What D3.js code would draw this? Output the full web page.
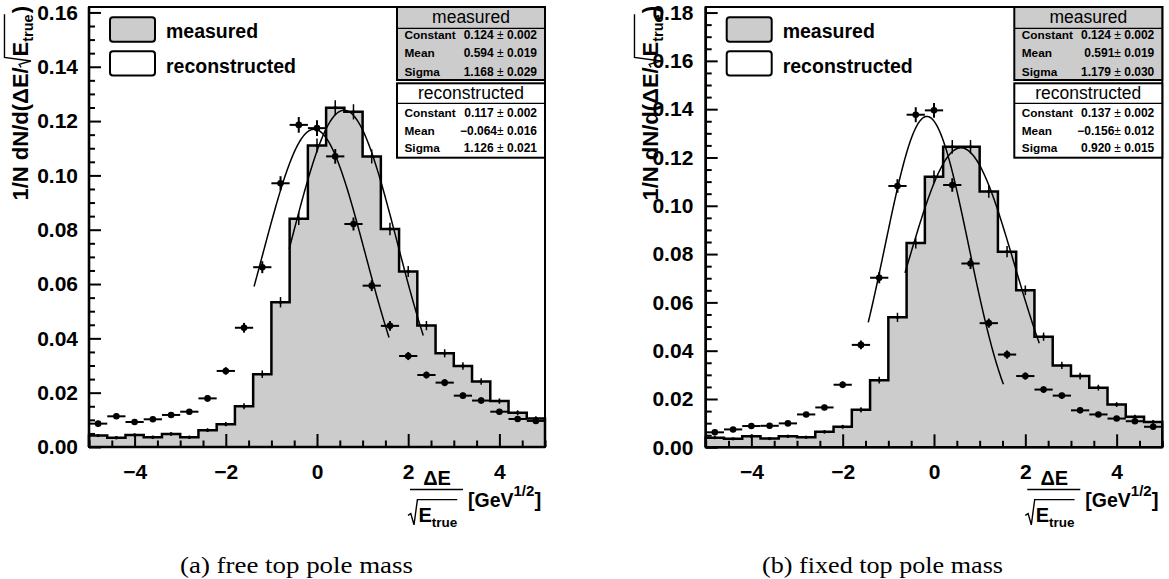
<!DOCTYPE html>
<html><head><meta charset="utf-8">
<script src="https://cdn.jsdelivr.net/npm/d3@7/dist/d3.min.js"></script>
<style>
html,body{margin:0;padding:0;background:#fff;}
svg{display:block;}
</style></head><body>
<svg id="chart" width="1169" height="579"></svg>
<script>
// ---------------- data ----------------
const binEdges = [-5.0,-4.6,-4.2,-3.8,-3.4,-3.0,-2.6,-2.2,-1.8,-1.4,-1.0,-0.6,-0.2,0.2,0.6,1.0,1.4,1.8,2.2,2.6,3.0,3.4,3.8,4.2,4.6,5.0];
const binCenters = [-4.8,-4.4,-4.0,-3.6,-3.2,-2.8,-2.4,-2.0,-1.6,-1.2,-0.8,-0.4,0.0,0.4,0.8,1.2,1.6,2.0,2.4,2.8,3.2,3.6,4.0,4.4,4.8];

// panel (a): free top pole mass
const measuredA = [0.0042,0.0034,0.0044,0.0036,0.0048,0.0036,0.0062,0.0084,0.0150,0.0268,0.0533,0.0840,0.1110,0.1249,0.1234,0.1070,0.0803,0.0646,0.0447,0.0345,0.0298,0.0241,0.0169,0.0126,0.0105];
const measuredErrA = [0.0005,0.0005,0.0005,0.0005,0.0006,0.0005,0.0007,0.0008,0.0011,0.0014,0.0019,0.0023,0.0026,0.0028,0.0028,0.0026,0.0023,0.0020,0.0017,0.0015,0.0014,0.0012,0.0010,0.0009,0.0008];
const reconstructedA = [0.0086,0.0113,0.0092,0.0102,0.0118,0.0130,0.0179,0.0280,0.0439,0.0662,0.0971,0.1186,0.1174,0.1070,0.0821,0.0594,0.0446,0.0335,0.0265,0.0237,0.0189,0.0171,0.0130,0.0103,0.0096];
const reconstructedErrA = [0.0008,0.0009,0.0008,0.0009,0.0009,0.0010,0.0012,0.0014,0.0018,0.0022,0.0026,0.0029,0.0029,0.0027,0.0024,0.0020,0.0018,0.0015,0.0013,0.0013,0.0011,0.0011,0.0010,0.0009,0.0008];

// panel (b): fixed top pole mass
const measuredB = [0.0040,0.0035,0.0046,0.0036,0.0046,0.0042,0.0064,0.0085,0.0155,0.0278,0.0538,0.0846,0.1120,0.1244,0.1244,0.1059,0.0810,0.0650,0.0458,0.0339,0.0295,0.0247,0.0177,0.0126,0.0105];
const measuredErrB = [0.0005,0.0005,0.0005,0.0005,0.0005,0.0005,0.0007,0.0008,0.0011,0.0014,0.0019,0.0023,0.0026,0.0028,0.0028,0.0026,0.0023,0.0020,0.0017,0.0015,0.0014,0.0012,0.0010,0.0009,0.0008];
const reconstructedB = [0.0062,0.0074,0.0088,0.0089,0.0099,0.0136,0.0165,0.0259,0.0424,0.0702,0.1082,0.1377,0.1395,0.1086,0.0761,0.0514,0.0384,0.0295,0.0239,0.0214,0.0153,0.0136,0.0119,0.0108,0.0085];
const reconstructedErrB = [0.0007,0.0008,0.0008,0.0008,0.0009,0.0010,0.0011,0.0014,0.0018,0.0023,0.0028,0.0031,0.0031,0.0028,0.0023,0.0019,0.0017,0.0015,0.0013,0.0012,0.0011,0.0010,0.0009,0.0009,0.0008];

// Gaussian fit results [Constant, Mean, Sigma] and fit ranges
const fitMeasuredA = [0.124, 0.594, 1.168];
const fitReconstructedA = [0.117, -0.064, 1.126];
const fitMeasuredB = [0.124, 0.591, 1.179];
const fitReconstructedB = [0.137, -0.156, 0.920];
const fitRangeMeasuredA = [-0.61, 2.33];
const fitRangeReconstructedA = [-1.38, 1.58];
const fitRangeMeasuredB = [-0.635, 2.32];
const fitRangeReconstructedB = [-1.44, 1.53];

// statistics box texts
const statNames = ["Constant", "Mean", "Sigma"];
const statTextMeasuredA = ["0.124 ± 0.002", "0.594 ± 0.019", "1.168 ± 0.029"];
const statTextReconstructedA = ["0.117 ± 0.002", "\u22120.064± 0.016", "1.126 ± 0.021"];
const statTextMeasuredB = ["0.124 ± 0.002", "0.591± 0.019", "1.179 ± 0.030"];
const statTextReconstructedB = ["0.137 ± 0.002", "\u22120.156± 0.012", "0.920 ± 0.015"];
const seriesNames = ["measured", "reconstructed"];

// axes
const xMajorTicks = [-4, -2, 0, 2, 4];
const xMajorLabels = ["\u22124", "\u22122", "0", "2", "4"];
const xMinorTicks = [-5, -4.5, -3.5, -3, -2.5, -1.5, -1, -0.5, 0.5, 1, 1.5, 2.5, 3, 3.5, 4.5, 5];
const yMajorTicksA = [0, 0.02, 0.04, 0.06, 0.08, 0.10, 0.12, 0.14, 0.16];
const yMajorLabelsA = ["0.00","0.02","0.04","0.06","0.08","0.10","0.12","0.14","0.16"];
const yMinorTicksA = [0.005,0.01,0.015,0.025,0.03,0.035,0.045,0.05,0.055,0.065,0.07,0.075,0.085,0.09,0.095,0.105,0.11,0.115,0.125,0.13,0.135,0.145,0.15,0.155];
const yMajorTicksB = [0, 0.02, 0.04, 0.06, 0.08, 0.10, 0.12, 0.14, 0.16, 0.18];
const yMajorLabelsB = ["0.00","0.02","0.04","0.06","0.08","0.10","0.12","0.14","0.16","0.18"];
const yMinorTicksB = [0.005,0.01,0.015,0.025,0.03,0.035,0.045,0.05,0.055,0.065,0.07,0.075,0.085,0.09,0.095,0.105,0.11,0.115,0.125,0.13,0.135,0.145,0.15,0.155,0.165,0.17,0.175];
const xDomain = [-5, 5];
const captionA = "(a) free top pole mass";
const captionB = "(b) fixed top pole mass";

// ---------------- drawing ----------------
const FONT = '"Liberation Sans", Arial, Helvetica, sans-serif';
const GRAY = '#cccccc';
const svg = d3.select('#chart').attr('font-family', FONT);

function measure(str, fs, fw) {
  const t = svg.append('text').attr('font-size', fs).attr('font-weight', fw || 'bold').text(str);
  const w = t.node().getComputedTextLength();
  t.remove();
  return w;
}

// rich text with an optional radical sign
function drawRich(g, items, anchor) {
  let x = 0; const placed = [];
  items.forEach(it => {
    if (it.rad) { placed.push({rad: true, x, fs: it.fs}); x += it.fs * 0.52; }
    else if (it.radEnd) { placed.push({radEnd: true, x}); x += 1; }
    else { const w = measure(it.t, it.fs, it.fw); placed.push(Object.assign({}, it, {x, w})); x += w; }
  });
  const off = anchor === 'end' ? -x : anchor === 'middle' ? -x / 2 : 0;
  let rs = null;
  placed.forEach(p => {
    if (p.rad) rs = p;
    else if (p.radEnd) {
      const fs = rs.fs, x0 = rs.x + off, x1 = p.x + off, top = -fs * 1.12;
      g.append('path')
        .attr('d', `M${x0},${-fs*0.33} L${x0+fs*0.14},${-fs*0.42} L${x0+fs*0.3},${fs*0.14} L${x0+fs*0.47},${top} L${x1},${top}`)
        .attr('fill', 'none').attr('stroke', '#000').attr('stroke-width', 1.4);
    } else {
      g.append('text').attr('x', p.x + off).attr('y', p.dy || 0)
        .attr('font-size', p.fs).attr('font-weight', p.fw || 'bold').text(p.t);
    }
  });
  return x;
}

const panels = [
  {L: 89, R: 545, T: 7, B: 447, ymax: 0.162,
   meas: measuredA, measErr: measuredErrA, rec: reconstructedA, recErr: reconstructedErrA,
   fitM: fitMeasuredA, fitR: fitReconstructedA, rangeM: fitRangeMeasuredA, rangeR: fitRangeReconstructedA,
   yMajor: yMajorTicksA, yLabels: yMajorLabelsA, yMinor: yMinorTicksA,
   statsM: statTextMeasuredA, statsR: statTextReconstructedA,
   caption: captionA, capX: 296.5, capLen: 233, yTitleX: 28, yLabelPad: 11},
  {L: 705.7, R: 1162.3, T: 7, B: 447.3, ymax: 0.1823,
   meas: measuredB, measErr: measuredErrB, rec: reconstructedB, recErr: reconstructedErrB,
   fitM: fitMeasuredB, fitR: fitReconstructedB, rangeM: fitRangeMeasuredB, rangeR: fitRangeReconstructedB,
   yMajor: yMajorTicksB, yLabels: yMajorLabelsB, yMinor: yMinorTicksB,
   statsM: statTextMeasuredB, statsR: statTextReconstructedB,
   caption: captionB, capX: 882.5, capLen: 241, yTitleX: 658, yLabelPad: 12.4}
];

panels.forEach(p => {
  const x = d3.scaleLinear().domain(xDomain).range([p.L, p.R]);
  const y = d3.scaleLinear().domain([0, p.ymax]).range([p.B, p.T]);
  const g = svg.append('g');

  // measured histogram (filled)
  const pts = [];
  p.meas.forEach((v, i) => { pts.push([binEdges[i], v]); pts.push([binEdges[i + 1], v]); });
  g.append('path')
    .attr('d', d3.area().x(d => x(d[0])).y0(y(0)).y1(d => y(d[1]))(pts))
    .attr('fill', GRAY);
  const outline = [[binEdges[0], 0]].concat(pts, [[binEdges[binEdges.length - 1], 0]]);
  g.append('path')
    .attr('d', d3.line().x(d => x(d[0])).y(d => y(d[1]))(outline))
    .attr('fill', 'none').attr('stroke', '#000').attr('stroke-width', 2.5).attr('stroke-linejoin', 'miter');
  // measured markers + error bars
  const mg = g.append('g');
  mg.selectAll('line').data(p.meas).enter().append('line')
    .attr('x1', (d, i) => x(binCenters[i])).attr('x2', (d, i) => x(binCenters[i]))
    .attr('y1', (d, i) => y(d - p.measErr[i])).attr('y2', (d, i) => y(d + p.measErr[i]))
    .attr('stroke', '#000').attr('stroke-width', 1.5);
  mg.selectAll('circle').data(p.meas).enter().append('circle')
    .attr('cx', (d, i) => x(binCenters[i])).attr('cy', d => y(d)).attr('r', 1.7).attr('fill', '#000');

  // reconstructed points
  const rg = g.append('g');
  rg.selectAll('line.h').data(p.rec).enter().append('line').attr('class', 'h')
    .attr('x1', (d, i) => x(binEdges[i])).attr('x2', (d, i) => x(binEdges[i + 1]))
    .attr('y1', d => y(d)).attr('y2', d => y(d))
    .attr('stroke', '#000').attr('stroke-width', 2);
  rg.selectAll('line.v').data(p.rec).enter().append('line').attr('class', 'v')
    .attr('x1', (d, i) => x(binCenters[i])).attr('x2', (d, i) => x(binCenters[i]))
    .attr('y1', (d, i) => y(d - p.recErr[i])).attr('y2', (d, i) => y(d + p.recErr[i]))
    .attr('stroke', '#000').attr('stroke-width', 2);
  rg.selectAll('circle').data(p.rec).enter().append('circle')
    .attr('cx', (d, i) => x(binCenters[i])).attr('cy', d => y(d)).attr('r', 3.3).attr('fill', '#000');

  // gaussian fits
  const gauss = (f, v) => f[0] * Math.exp(-0.5 * Math.pow((v - f[1]) / f[2], 2));
  [[p.fitM, p.rangeM], [p.fitR, p.rangeR]].forEach(([f, r]) => {
    const xs = d3.range(r[0], r[1] + 1e-9, 0.02);
    g.append('path')
      .attr('d', d3.line().x(v => x(v)).y(v => y(gauss(f, v)))(xs))
      .attr('fill', 'none').attr('stroke', '#000').attr('stroke-width', 1.5);
  });

  // frame
  g.append('rect').attr('x', p.L).attr('y', p.T).attr('width', p.R - p.L).attr('height', p.B - p.T)
    .attr('fill', 'none').attr('stroke', '#000').attr('stroke-width', 2);
  g.append('line').attr('x1', p.L).attr('x2', p.L).attr('y1', p.T).attr('y2', p.B).attr('stroke', '#000').attr('stroke-width', 2.6);
  g.append('line').attr('x1', p.L).attr('x2', p.R).attr('y1', p.B).attr('y2', p.B).attr('stroke', '#000').attr('stroke-width', 2.6);

  // axes
  const styleAxis = (a, fs) => {
    a.select('.domain').remove();
    a.selectAll('line').attr('stroke-width', 2);
    a.selectAll('text').attr('font-family', FONT).attr('font-size', fs).attr('font-weight', 'bold').attr('fill', '#000');
  };
  const yAx = g.append('g').attr('transform', `translate(${p.L},0)`)
    .call(d3.axisLeft(y).tickValues(p.yMajor).tickFormat(d => p.yLabels[p.yMajor.indexOf(d)])
      .tickSizeInner(-12).tickSizeOuter(0).tickPadding(p.yLabelPad));
  styleAxis(yAx, 21);
  const yMin = g.append('g').attr('transform', `translate(${p.L},0)`)
    .call(d3.axisLeft(y).tickValues(p.yMinor).tickFormat('').tickSizeInner(-6).tickSizeOuter(0));
  styleAxis(yMin, 10);
  const xAx = g.append('g').attr('transform', `translate(0,${p.B})`)
    .call(d3.axisBottom(x).tickValues(xMajorTicks).tickFormat(d => xMajorLabels[xMajorTicks.indexOf(d)])
      .tickSizeInner(-13).tickSizeOuter(0).tickPadding(17));
  styleAxis(xAx, 21);
  const xMin = g.append('g').attr('transform', `translate(0,${p.B})`)
    .call(d3.axisBottom(x).tickValues(xMinorTicks).tickFormat('').tickSizeInner(-6.5).tickSizeOuter(0));
  styleAxis(xMin, 10);

  // legend
  const lg = g.append('g');
  [[GRAY, 10.3, 31.3], ['#fff', 44.2, 66.3]].forEach(([fill, ry, ty], k) => {
    lg.append('rect').attr('x', p.L + 21).attr('y', p.T + ry).attr('width', 45).attr('height', 24.4)
      .attr('rx', 3).attr('fill', fill).attr('stroke', '#000').attr('stroke-width', 2);
    lg.append('text').attr('x', p.L + 77).attr('y', p.T + ty).attr('font-size', 19.5)
      .attr('font-weight', 'bold').text(seriesNames[k]);
  });

  // statistics boxes
  const x0 = p.R - 148;
  const boxes = [
    {fill: GRAY, top: p.T, bot: 80, title: seriesNames[0], tb: 22.5, sep: 28.3, rows: [38.5, 57.2, 75.5], txt: p.statsM},
    {fill: '#fff', top: 83.3, bot: 157.7, title: seriesNames[1], tb: 99.3, sep: 103.3, rows: [117, 134.8, 152.2], txt: p.statsR}
  ];
  boxes.forEach(b => {
    const sg = g.append('g');
    sg.append('rect').attr('x', x0).attr('y', b.top).attr('width', p.R - x0).attr('height', b.bot - b.top)
      .attr('fill', b.fill).attr('stroke', '#000').attr('stroke-width', 2);
    sg.append('line').attr('x1', x0).attr('x2', p.R).attr('y1', b.sep).attr('y2', b.sep)
      .attr('stroke', '#000').attr('stroke-width', 1.2);
    sg.append('text').attr('x', x0 + 74).attr('y', b.tb).attr('text-anchor', 'middle')
      .attr('font-size', 17.5).text(b.title);
    statNames.forEach((n, i) => {
      sg.append('text').attr('x', x0 + 7.5).attr('y', b.rows[i]).attr('font-size', 11.8)
        .attr('font-weight', 'bold').text(n);
      const parts = b.txt[i].split('±');
      const t = sg.append('text').attr('x', p.R - 8).attr('y', b.rows[i]).attr('text-anchor', 'end')
        .attr('font-size', 12).attr('font-weight', 'bold');
      t.append('tspan').text(parts[0]);
      t.append('tspan').attr('font-weight', 'normal').text('±');
      t.append('tspan').text(parts[1]);
    });
  });

  // y axis title
  const yt = g.append('g').attr('transform', `translate(${p.yTitleX},6) rotate(-90)`);
  drawRich(yt, [
    {t: '1/N dN/d(\u0394E/', fs: 22}, {rad: true, fs: 21}, {t: 'E', fs: 22},
    {t: 'true', fs: 14.5, dy: 5}, {radEnd: true}, {t: ')', fs: 22}
  ], 'end');

  // x axis title
  const R = p.R;
  g.append('text').attr('x', R - 108).attr('y', 485).attr('text-anchor', 'middle')
    .attr('font-size', 20).attr('font-weight', 'bold').text('\u0394E');
  g.append('line').attr('x1', R - 135).attr('x2', R - 82).attr('y1', 489.5).attr('y2', 489.5)
    .attr('stroke', '#000').attr('stroke-width', 1.6);
  const den = g.append('g').attr('transform', `translate(${R - 137},522)`);
  drawRich(den, [{rad: true, fs: 20}, {t: 'E', fs: 20}, {t: 'true', fs: 13.5, dy: 5}, {radEnd: true}], 'start');
  const unit = g.append('g').attr('transform', `translate(${R - 77},507)`);
  drawRich(unit, [{t: '[GeV', fs: 19.5}, {t: '1/2', fs: 15, dy: -11}, {t: ']', fs: 20.5}], 'start');

  // caption
  svg.append('text').attr('x', p.capX).attr('y', 573).attr('text-anchor', 'middle')
    .attr('font-family', '"Liberation Serif","Times New Roman",serif').attr('font-size', 23)
    .attr('textLength', p.capLen).attr('lengthAdjust', 'spacingAndGlyphs').text(p.caption);
});
</script>
</body></html>
